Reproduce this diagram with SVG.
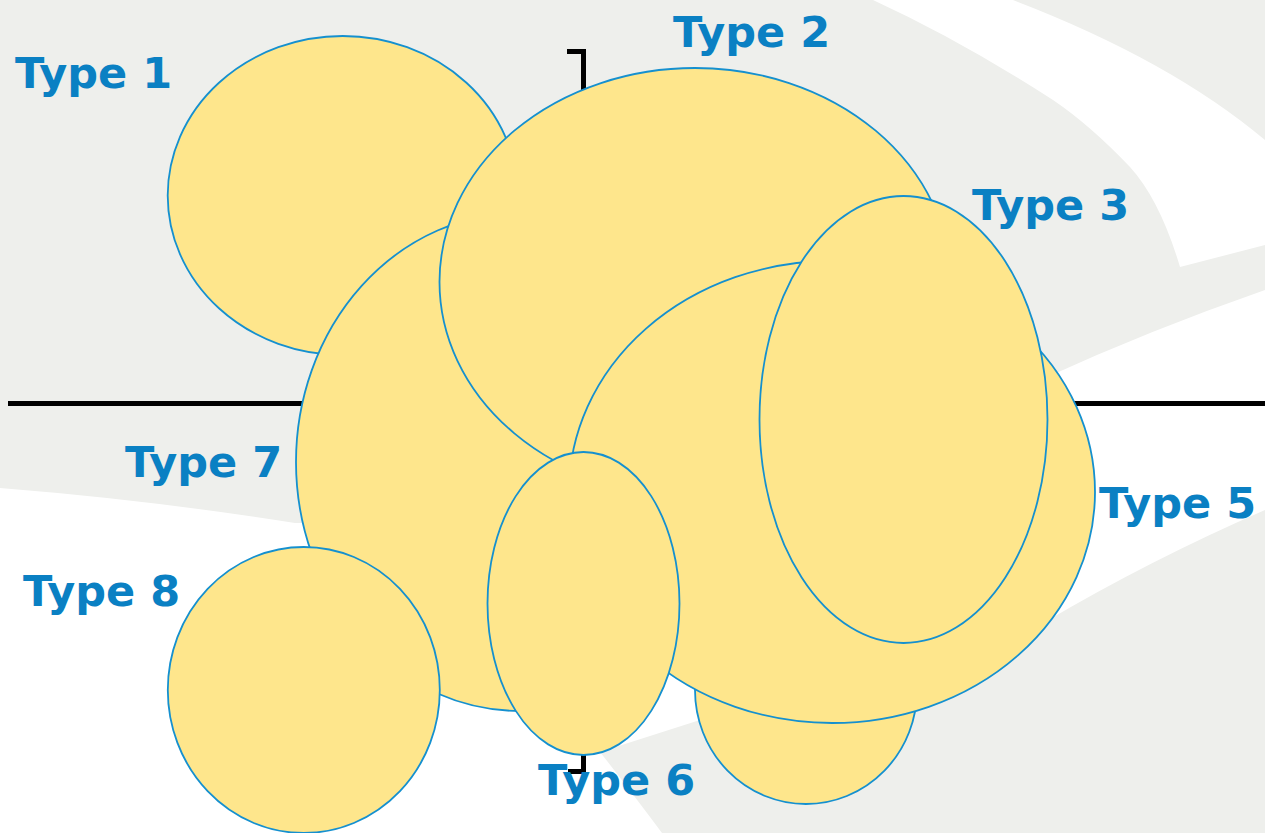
<svg xmlns="http://www.w3.org/2000/svg" width="1265" height="833" viewBox="0 0 1265 833">
  <style>
    .blob { fill: #fee68c; stroke: #1590cf; stroke-width: 1.8; }
    .label { font-family: "DejaVu Sans", Verdana, sans-serif; font-weight: bold; font-size: 43px; fill: #0a80c3; }
    .rule { fill: none; stroke: #000; stroke-width: 5; }
  </style>
  <g id="background">
    <rect x="0" y="0" width="1265" height="833" fill="#eeefec"/>
    <path d="M873,0 L1013,0 Q1170,60 1265,140 L1265,245 L1180,267 Q1160,200 1130,167 Q1090,125 1053,100 Q960,40 873,0 Z" fill="#ffffff"/>
    <path d="M0,488 Q150,500 295,523 L700,520 L1045,378 Q1150,330 1265,290 L1265,510 Q1150,560 1045,622 L700,720 L600,752 Q630,790 662,833 L0,833 Z" fill="#ffffff"/>
  </g>
  <g id="connectors">
    <line class="rule" x1="8" y1="403.5" x2="1265" y2="403.5"/>
    <path class="rule" d="M567,51.5 H583.5 V771.5 H568"/>
  </g>
  <g id="type1"><ellipse class="blob" cx="342.7" cy="195.5" rx="175" ry="159.5"/></g>
  <g id="type7"><ellipse class="blob" cx="520" cy="462" rx="224" ry="249"/></g>
  <g id="type2"><ellipse class="blob" cx="695" cy="282" rx="255.5" ry="214"/></g>
  <g id="type4"><ellipse class="blob" cx="806" cy="690" rx="111" ry="114"/></g>
  <g id="type5"><ellipse class="blob" cx="832" cy="492" rx="263" ry="231"/></g>
  <g id="type3"><ellipse class="blob" cx="903.5" cy="419.5" rx="144" ry="223.5"/></g>
  <g id="type6"><ellipse class="blob" cx="583.5" cy="603.5" rx="96" ry="151.5"/></g>
  <g id="type8"><ellipse class="blob" cx="303.8" cy="690" rx="136" ry="143"/></g>
  <g id="labels">
    <text class="label" x="15" y="88">Type 1</text>
    <text class="label" x="673" y="47">Type 2</text>
    <text class="label" x="972" y="220">Type 3</text>
    <text class="label" x="1099" y="518">Type 5</text>
    <text class="label" x="538" y="795">Type 6</text>
    <text class="label" x="125" y="477">Type 7</text>
    <text class="label" x="23" y="606">Type 8</text>
  </g>
</svg>
